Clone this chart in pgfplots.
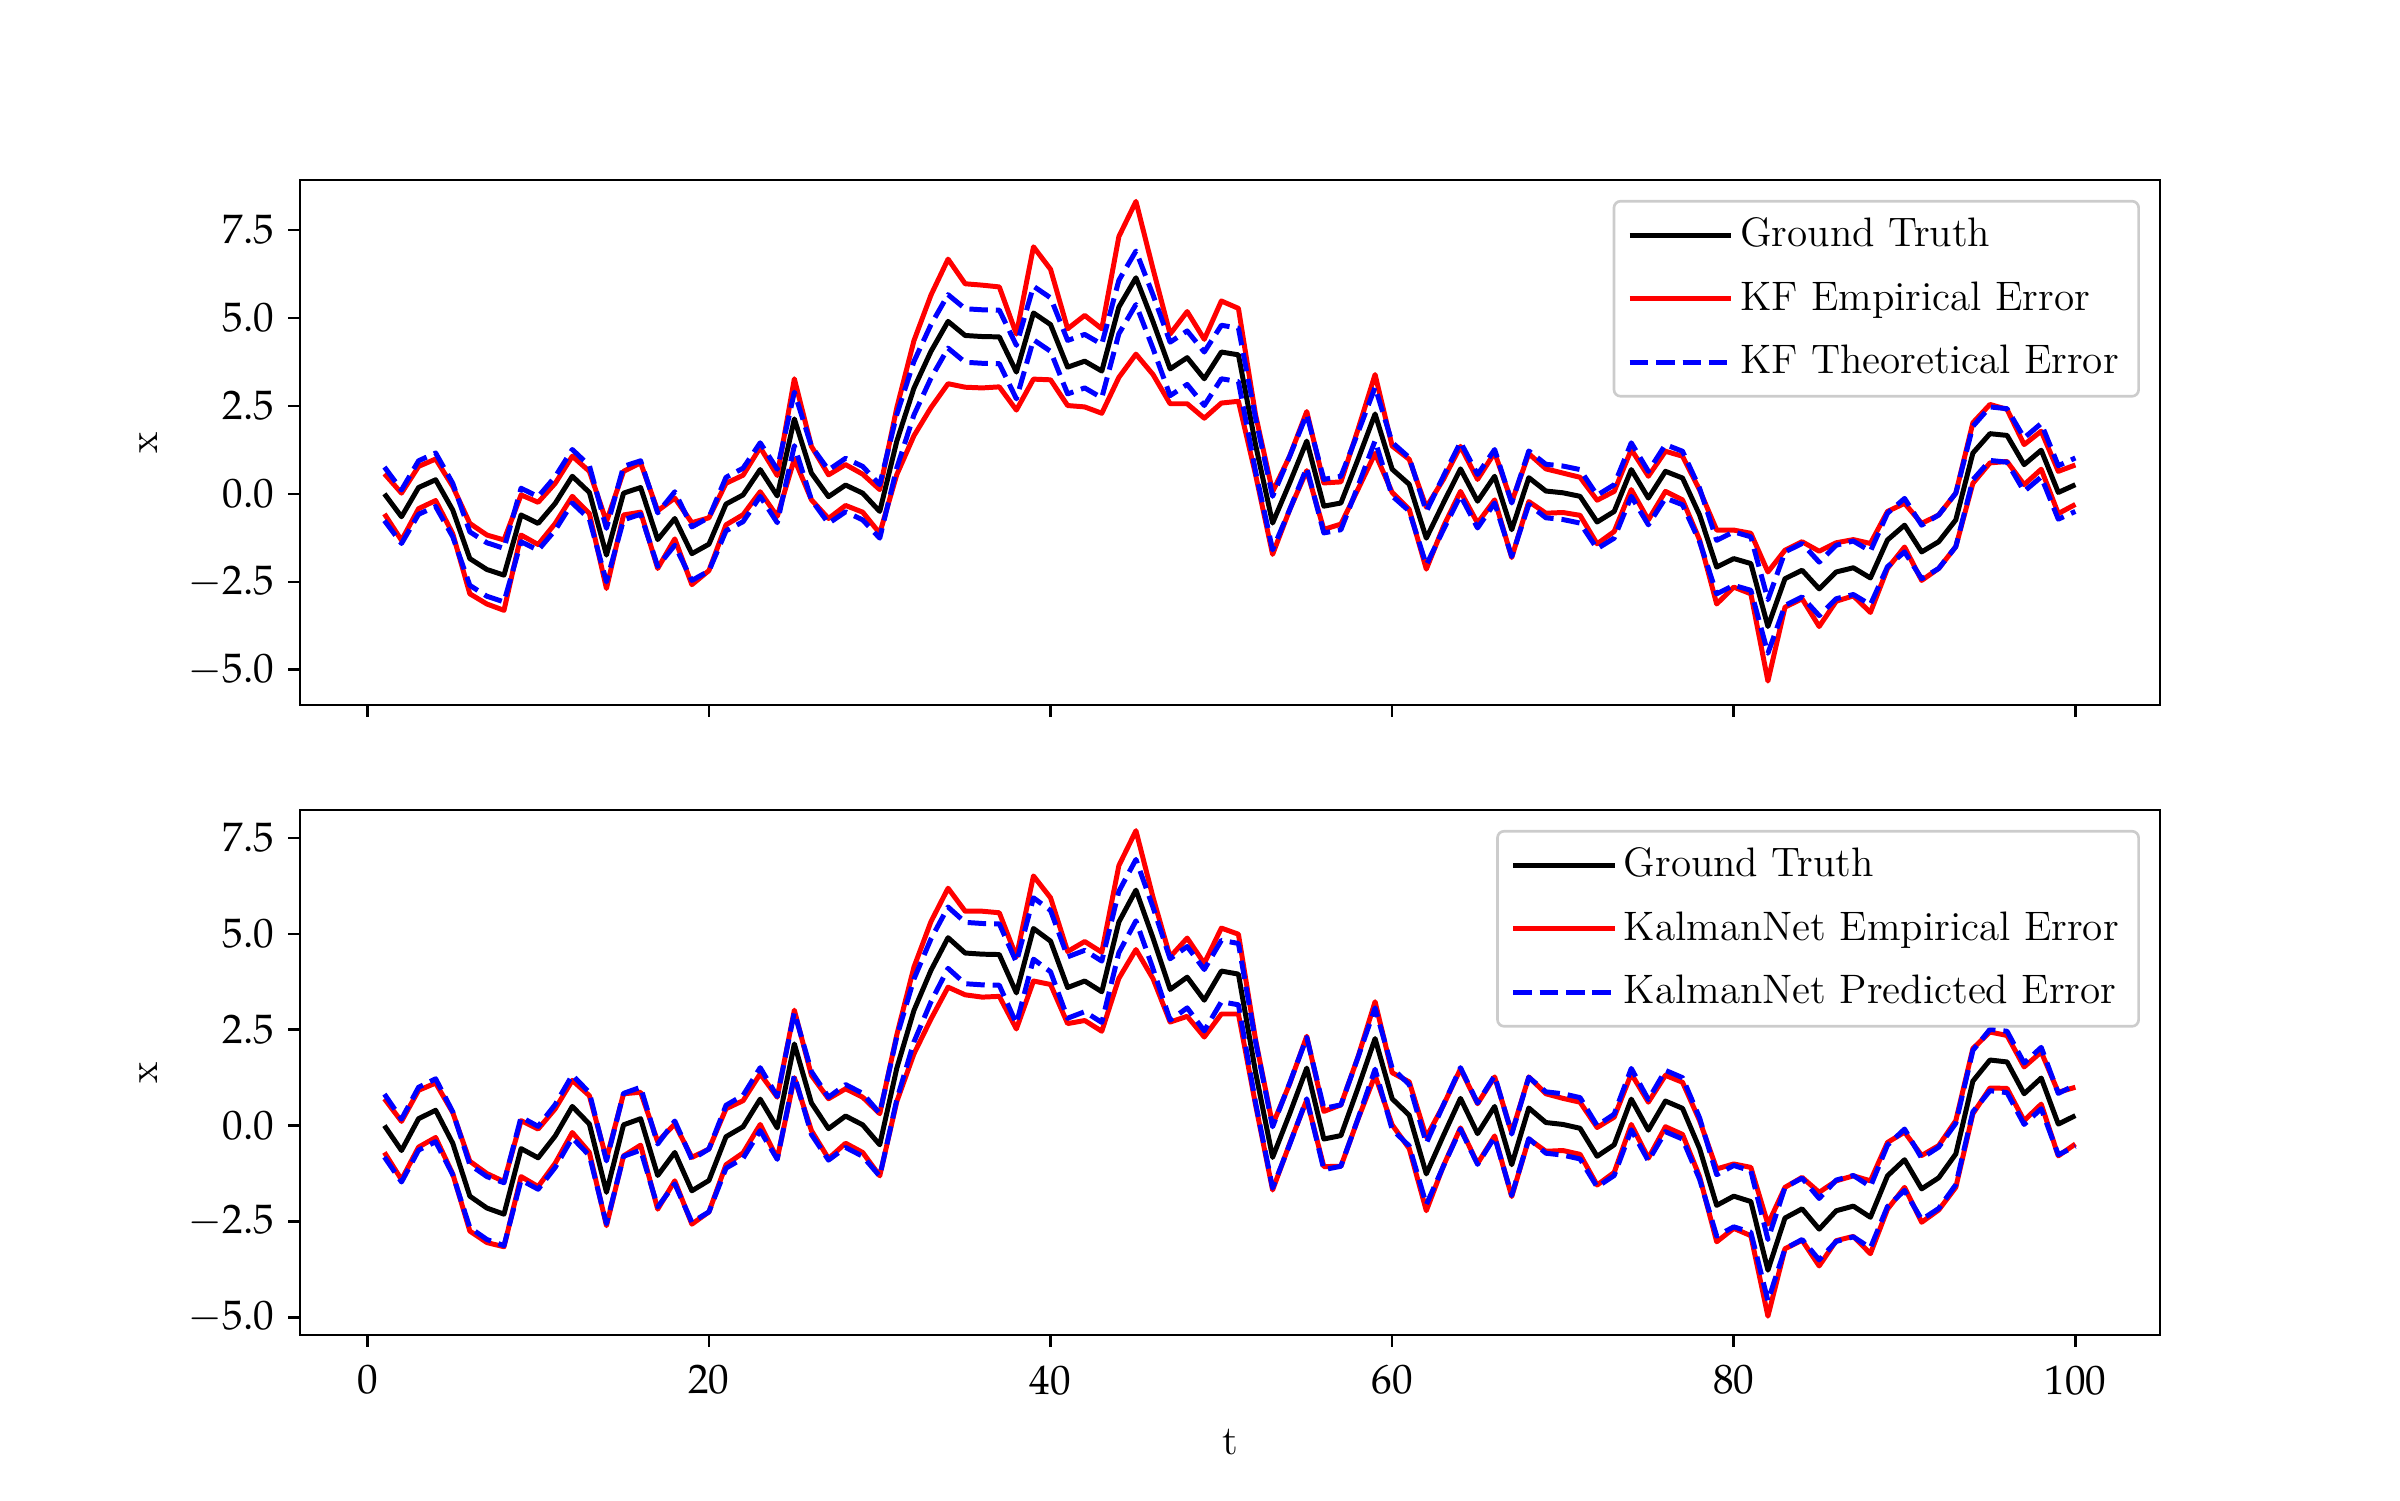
\documentclass[border=0pt,12pt]{standalone}
\usepackage{mathpazo}
\usepackage{pgfplots}
\pgfplotsset{compat=1.18}
\usepackage{pgfplotstable}

% t, ground truth, half-width of red band (top, bottom), half-width of blue band (top, bottom)
\pgfplotstableread{
t gt ert erb ebt ebb
1 0.00 0.57 0.70 0.76 0.82
2 -0.65 0.67 0.76 0.76 0.82
3 0.18 0.60 0.74 0.76 0.82
4 0.40 0.59 0.71 0.76 0.82
5 -0.46 0.67 0.80 0.76 0.82
6 -1.84 1.00 0.91 0.76 0.82
7 -2.15 0.98 0.90 0.76 0.82
8 -2.31 1.00 0.85 0.76 0.82
9 -0.60 0.57 0.73 0.76 0.82
10 -0.84 0.60 0.75 0.76 0.82
11 -0.27 0.57 0.71 0.76 0.82
12 0.50 0.57 0.68 0.76 0.82
13 0.04 0.60 0.74 0.76 0.82
14 -1.74 0.95 0.87 0.76 0.82
15 0.02 0.62 0.81 0.76 0.82
16 0.18 0.70 0.69 0.76 0.82
17 -1.30 0.82 0.88 0.76 0.82
18 -0.70 0.58 0.74 0.76 0.82
19 -1.70 0.88 0.87 0.76 0.82
20 -1.43 0.75 0.82 0.76 0.82
21 -0.29 0.59 0.73 0.76 0.82
22 -0.03 0.56 0.68 0.76 0.82
23 0.69 0.63 0.66 0.76 0.82
24 -0.06 0.58 0.80 0.76 0.82
25 2.13 1.14 0.88 0.76 0.82
26 0.59 0.76 0.72 0.76 0.82
27 -0.08 0.62 0.78 0.76 0.82
28 0.25 0.58 0.71 0.76 0.82
29 0.02 0.54 0.72 0.76 0.82
30 -0.50 0.62 0.81 0.76 0.82
31 1.50 0.95 0.87 0.76 0.82
32 3.00 1.35 1.13 0.76 0.82
33 4.05 1.60 1.27 0.76 0.82
34 4.90 1.77 1.29 0.76 0.80
35 4.50 1.47 1.09 0.76 0.80
36 4.47 1.46 1.12 0.76 0.80
37 4.46 1.42 1.09 0.76 0.80
38 3.46 1.08 0.94 0.76 0.80
39 5.14 1.88 1.37 0.76 0.80
40 4.81 1.57 1.13 0.76 0.80
41 3.60 1.09 0.94 0.76 0.80
42 3.77 1.30 1.03 0.76 0.80
43 3.49 1.20 1.03 0.76 0.80
44 5.31 2.00 1.47 0.76 0.80
45 6.14 2.17 1.55 0.76 0.80
46 4.89 1.50 1.06 0.76 0.80
47 3.55 0.99 0.85 0.76 0.80
48 3.87 1.31 1.02 0.76 0.80
49 3.27 1.12 0.96 0.76 0.80
50 4.03 1.45 1.12 0.76 0.80
51 3.95 1.32 1.04 0.76 0.80
52 1.40 0.85 0.85 0.76 0.80
53 -0.83 0.89 0.85 0.76 0.80
54 0.31 0.76 0.78 0.76 0.80
55 1.50 0.84 0.83 0.76 0.80
56 -0.35 0.66 0.72 0.76 0.80
57 -0.26 0.60 0.80 0.76 0.80
58 0.98 0.85 0.81 0.76 0.80
59 2.27 1.12 0.96 0.76 0.80
60 0.70 0.66 0.68 0.76 0.80
61 0.27 0.71 0.87 0.76 0.80
62 -1.26 0.88 0.96 0.76 0.80
63 -0.26 0.67 0.79 0.76 0.80
64 0.71 0.64 0.77 0.76 0.80
65 -0.21 0.62 0.78 0.76 0.80
66 0.50 0.67 0.77 0.76 0.80
67 -1.02 0.79 0.83 0.76 0.80
68 0.46 0.68 0.81 0.76 0.80
69 0.08 0.63 0.75 0.76 0.80
70 0.03 0.56 0.68 0.76 0.80
71 -0.07 0.54 0.68 0.76 0.80
72 -0.80 0.62 0.75 0.76 0.80
73 -0.50 0.57 0.72 0.76 0.80
74 0.69 0.57 0.66 0.76 0.80
75 -0.12 0.62 0.73 0.76 0.80
76 0.64 0.57 0.67 0.76 0.80
77 0.45 0.62 0.68 0.76 0.80
78 -0.60 0.71 0.73 0.76 0.80
79 -2.08 1.05 0.95 0.76 0.80
80 -1.84 0.81 0.84 0.76 0.80
81 -1.98 0.86 0.89 0.76 0.80
82 -3.77 1.55 1.20 0.76 0.80
83 -2.41 0.81 0.80 0.76 0.80
84 -2.17 0.81 0.82 0.76 0.80
85 -2.70 1.07 0.96 0.76 0.80
86 -2.22 0.83 0.78 0.76 0.80
87 -2.10 0.80 0.79 0.76 0.80
88 -2.39 0.98 0.95 0.76 0.80
89 -1.31 0.81 0.87 0.76 0.80
90 -0.89 0.62 0.72 0.76 0.80
91 -1.65 0.81 0.87 0.76 0.80
92 -1.36 0.76 0.84 0.76 0.80
93 -0.74 0.76 0.87 0.76 0.80
94 1.16 0.86 0.85 0.76 0.80
95 1.71 0.83 0.73 0.76 0.80
96 1.66 0.74 0.69 0.76 0.80
97 0.83 0.57 0.70 0.76 0.80
98 1.24 0.54 0.68 0.76 0.80
99 0.04 0.60 0.83 0.76 0.80
100 0.26 0.56 0.74 0.76 0.80
}\data

\definecolor{mplred}{rgb}{1,0,0}
\definecolor{mplblue}{rgb}{0,0,1}

\pgfplotsset{
  myaxis/.style={
    scale only axis, width=560.1pt, height=158.1pt,
    xmin=-3.95, xmax=104.95,
    xtick={0,20,40,60,80,100},
    ytick={-5,-2.5,0,2.5,5,7.5},
    yticklabel style={/pgf/number format/.cd,fixed,fixed zerofill,precision=1},
    xticklabel style={yshift=-1.5pt},
    tick align=outside, xtick pos=lower, ytick pos=left,
    major tick length=3.5pt,
    every tick/.style={black, line width=0.8pt},
    axis line style={line width=0.8pt},
    tick label style={font=\fontsize{12.4}{14.5}\selectfont},
    label style={font=\fontsize{12.4}{14.5}\selectfont},
    xlabel style={yshift=-2pt},
    ylabel style={yshift=1pt},
    ylabel={x},
    legend cell align=left,
    legend style={at={(1,1)}, xshift=-6pt, yshift=-6pt, anchor=north east,
      draw=black!20, line width=0.8pt, rounded corners=2pt, fill=white,
      fill opacity=0.8, text opacity=1, draw opacity=1,
      font=\fontsize{12.4}{14.5}\selectfont, inner xsep=4pt, inner ysep=3pt,
      row sep=4.7pt},
    legend image code/.code={\draw[#1, line width=1.5pt] (0pt,0pt) -- (24pt,0pt);
      \path (0pt,0pt) -- (30.5pt,0pt);},
    every axis plot/.append style={line width=1.5pt, line join=round},
  },
  gtline/.style={black},
  redline/.style={mplred},
  blueline/.style={mplblue, dash pattern=on 5.55pt off 2.4pt},
}

\begin{document}
\begin{tikzpicture}
\path[use as bounding box] (0,0) rectangle (722.7pt,451.7pt);
\begin{axis}[myaxis, at={(90.3pt,239.4pt)}, anchor=south west,
  xticklabels={}, ymin=-6.0, ymax=8.92]
\addplot[gtline] table[x=t, y=gt] {\data};
\addlegendentry{Ground Truth}
\addplot[redline] table[x=t, y expr=\thisrow{gt}+\thisrow{ert}] {\data};
\addlegendentry{KF Empirical Error}
\addplot[redline, forget plot] table[x=t, y expr=\thisrow{gt}-\thisrow{ert}] {\data};
\addplot[blueline] table[x=t, y expr=\thisrow{gt}+\thisrow{ebt}] {\data};
\addlegendentry{KF Theoretical Error}
\addplot[blueline, forget plot] table[x=t, y expr=\thisrow{gt}-\thisrow{ebt}] {\data};
\end{axis}
\begin{axis}[myaxis, at={(90.3pt,49.7pt)}, anchor=south west,
  xlabel={t}, ymin=-5.46, ymax=8.23]
\addplot[gtline] table[x=t, y=gt] {\data};
\addlegendentry{Ground Truth}
\addplot[redline] table[x=t, y expr=\thisrow{gt}+\thisrow{erb}] {\data};
\addlegendentry{KalmanNet Empirical Error}
\addplot[redline, forget plot] table[x=t, y expr=\thisrow{gt}-\thisrow{erb}] {\data};
\addplot[blueline] table[x=t, y expr=\thisrow{gt}+\thisrow{ebb}] {\data};
\addlegendentry{KalmanNet Predicted Error}
\addplot[blueline, forget plot] table[x=t, y expr=\thisrow{gt}-\thisrow{ebb}] {\data};
\end{axis}
\end{tikzpicture}
\end{document}
